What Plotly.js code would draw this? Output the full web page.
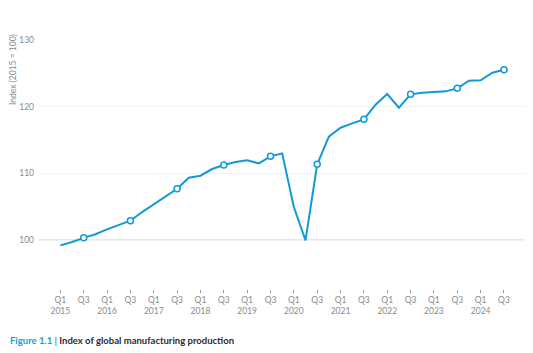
<!DOCTYPE html>
<html>
<head>
<meta charset="utf-8">
<script src="https://cdn.plot.ly/plotly-3.0.1.min.js"></script>
<style>html,body{margin:0;padding:0;background:#fff;}#chart{width:533px;height:353px;}</style>
</head>
<body>
<div id="chart"></div>
<script>
const quarters = ["Q1 2015","Q2 2015","Q3 2015","Q4 2015","Q1 2016","Q2 2016","Q3 2016","Q4 2016",
  "Q1 2017","Q2 2017","Q3 2017","Q4 2017","Q1 2018","Q2 2018","Q3 2018","Q4 2018",
  "Q1 2019","Q2 2019","Q3 2019","Q4 2019","Q1 2020","Q2 2020","Q3 2020","Q4 2020",
  "Q1 2021","Q2 2021","Q3 2021","Q4 2021","Q1 2022","Q2 2022","Q3 2022","Q4 2022",
  "Q1 2023","Q2 2023","Q3 2023","Q4 2023","Q1 2024","Q2 2024","Q3 2024"];
const indexValues = [99.2, 99.7, 100.33, 100.87, 101.6, 102.2, 102.9, 104.2,
  105.4, 106.5, 107.7, 109.35, 109.65, 110.65, 111.25, 111.7,
  111.95, 111.5, 112.55, 113.0, 104.95, 99.95, 111.35, 115.5,
  116.85, 117.5, 118.1, 120.3, 121.9, 119.85, 121.85, 122.1,
  122.2, 122.3, 122.75, 123.9, 123.95, 125.1, 125.55];
const tickLabels = ["Q1<br>2015","Q3","Q1<br>2016","Q3","Q1<br>2017","Q3","Q1<br>2018","Q3","Q1<br>2019","Q3",
  "Q1<br>2020","Q3","Q1<br>2021","Q3","Q1<br>2022","Q3","Q1<br>2023","Q3","Q1<br>2024","Q3"];
const yTicks = [100, 110, 120, 130];

const xIdx = quarters.map((q, i) => i);
const tickVals = tickLabels.map((t, k) => k * 2);
const markIdx = xIdx.filter(i => quarters[i].startsWith("Q3"));

const blue = "#1199d9";
const traces = [
  {x: xIdx, y: indexValues, type: "scatter", mode: "lines",
   line: {color: blue, width: 2}, hoverinfo: "skip", showlegend: false},
  {x: markIdx, y: markIdx.map(i => indexValues[i]), type: "scatter", mode: "markers",
   marker: {color: "#ffffff", size: 6, line: {color: blue, width: 1.5}}, showlegend: false}
];

const layout = {
  width: 533, height: 353,
  margin: {l: 39, r: 8, t: 40, b: 64},
  paper_bgcolor: "#ffffff", plot_bgcolor: "#ffffff",
  font: {family: "Lato, Open Sans, sans-serif", color: "#8a8a8a", size: 8.5},
  xaxis: {
    range: [-1.83, 39.8], tickvals: tickVals, ticktext: tickLabels,
    showgrid: false, zeroline: false, showline: false,
    ticks: "outside", ticklen: 3, tickcolor: "#9a9a9a", tickwidth: 1,
    tickfont: {size: 8.5, color: "#8a8a8a"}, fixedrange: true
  },
  yaxis: {
    range: [92.66, 130], tickvals: yTicks, ticktext: yTicks.map(String),
    showgrid: true, gridcolor: "#f2f2f2", gridwidth: 1,
    zeroline: false, showline: false, ticks: "",
    tickfont: {size: 8.5, color: "#8a8a8a"}, ticklabelstandoff: 4
  },
  shapes: [{type: "line", xref: "paper", x0: 0, x1: 1, yref: "y", y0: 100, y1: 100,
    line: {color: "#d4d4d4", width: 1.2}, layer: "below"}],
  annotations: [
    {text: "Index (2015 = 100)", textangle: -90, xref: "paper", yref: "paper",
     x: -0.053, y: 0.88, xanchor: "center", yanchor: "middle", showarrow: false,
     font: {size: 8.5, color: "#8a8a8a"}},
    {text: "<b><span style='color:#1a9ad9'>Figure 1.1 |</span> <span style='color:#2a2a3a'>Index of global manufacturing production</span></b>",
     xref: "paper", yref: "paper", x: -0.063, y: -0.208, xanchor: "left", yanchor: "middle",
     showarrow: false, font: {size: 9.5, family: "Lato, sans-serif"}}
  ]
};

Plotly.newPlot("chart", traces, layout, {displayModeBar: false, staticPlot: true});
</script>
</body>
</html>
